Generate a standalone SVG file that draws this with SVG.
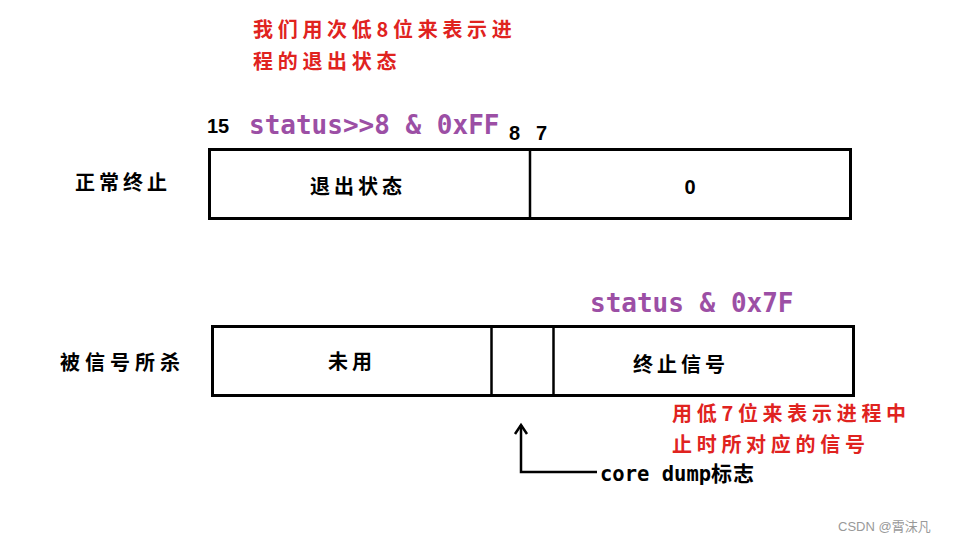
<svg xmlns="http://www.w3.org/2000/svg" width="967" height="543" viewBox="0 0 967 543">
<style>
.box{fill:#fff;stroke:#000;stroke-width:3}
.div{stroke:#000;stroke-width:2.5}
.cjk{font-family:"Noto Sans CJK SC","Noto Sans",sans-serif;fill:#000;font-size:20px;font-weight:bold;letter-spacing:4px}
.red{font-family:"Noto Sans CJK SC","Noto Sans",sans-serif;fill:#e0231f;font-size:20px;font-weight:bold;letter-spacing:4.7px}
.mono{font-family:"DejaVu Sans Mono","Liberation Mono",monospace;fill:#9c4fa5;font-size:26px;font-weight:bold}
.num{font-family:"Liberation Sans",Arial,sans-serif;font-weight:bold;font-size:20px;fill:#000}
.conn{fill:none;stroke:#000;stroke-width:2.5}
</style>
<rect width="967" height="543" fill="#fff"/>
<g id="note-top">
<text class="red" x="253" y="37">我们用次低8位来表示进</text>
<text class="red" x="253" y="69">程的退出状态</text>
</g>
<g id="bits-top">
<text class="num" x="207" y="133">15</text>
<text class="mono" x="249" y="134">status&gt;&gt;8 &amp; 0xFF</text>
<text class="num" x="509" y="140">8</text>
<text class="num" x="536" y="140">7</text>
</g>
<g id="label-normal"><text class="cjk" x="75" y="190">正常终止</text></g>
<g id="box-normal">
<rect class="box" x="209.5" y="149.5" width="641" height="69"/>
<line class="div" x1="530" y1="149" x2="530" y2="219"/>
<text class="cjk" x="358" y="194" text-anchor="middle">退出状态</text>
<text class="num" x="690" y="194" text-anchor="middle">0</text>
</g>
<g id="mask-bottom"><text class="mono" x="590" y="312">status &amp; 0x7F</text></g>
<g id="label-killed"><text class="cjk" x="60" y="370" style="letter-spacing:5px">被信号所杀</text></g>
<g id="box-killed">
<rect class="box" x="212.5" y="326.5" width="641" height="69"/>
<line class="div" x1="491.5" y1="326" x2="491.5" y2="396"/>
<line class="div" x1="553.5" y1="326" x2="553.5" y2="396"/>
<text class="cjk" x="352" y="369" text-anchor="middle">未用</text>
<text class="cjk" x="681" y="372" text-anchor="middle">终止信号</text>
</g>
<g id="note-bottom">
<text class="red" x="672" y="421">用低7位来表示进程中</text>
<text class="red" x="672" y="452">止时所对应的信号</text>
</g>
<g id="connectors">
<polyline class="conn" points="597,472 521,472 521,425"/>
<polyline class="conn" points="515,434 521,425 527,434"/>
</g>
<g id="core-dump"><text x="600" y="481" style="font-family:'DejaVu Sans Mono','Noto Sans CJK SC',monospace;font-weight:bold;font-size:20.5px;fill:#000">core dump<tspan style="font-family:'Noto Sans CJK SC',sans-serif;font-size:21px;letter-spacing:1px">标志</tspan></text></g>
<g id="watermark"><text x="838" y="531" style="font-family:'Liberation Sans','Noto Sans CJK SC',sans-serif;font-size:13px;fill:#999">CSDN @霄沫凡</text></g>
</svg>
